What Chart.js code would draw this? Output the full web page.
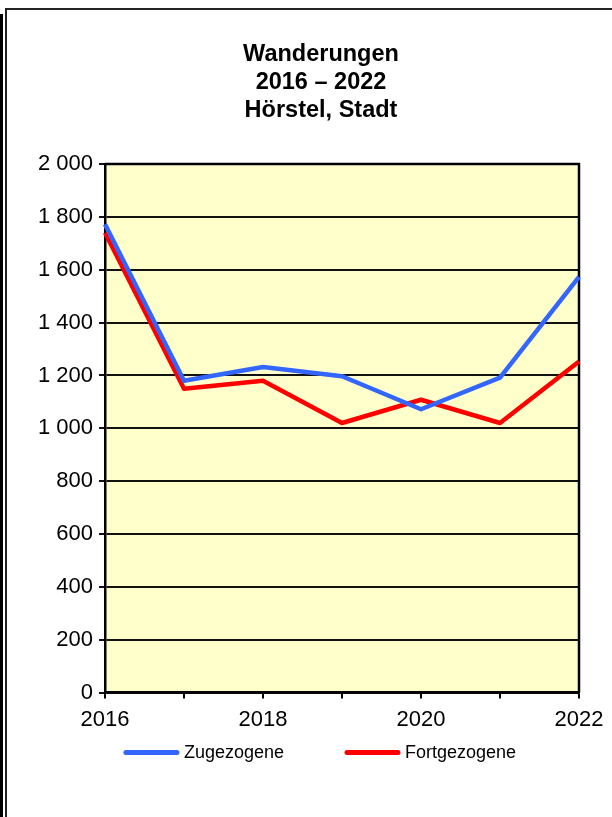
<!DOCTYPE html>
<html lang="de">
<head>
<meta charset="utf-8">
<title>Wanderungen 2016 – 2022 Hörstel, Stadt</title>
<script src="https://cdn.jsdelivr.net/npm/chart.js@4/dist/chart.umd.min.js"></script>
<style>
  html, body { margin: 0; padding: 0; background: #fff; }
  #wrap { position: relative; width: 612px; height: 817px; overflow: hidden; }
  #wrap canvas { position: absolute; left: 0; top: 0; }
  .bar-outer { position: absolute; left: 0; top: 14px; width: 3px; height: 803px; background: #000; }
  .frame { position: absolute; left: 5px; top: 8px; width: 620px; height: 820px;
           border-left: 2px solid #222; border-top: 2px solid #222; }
</style>
</head>
<body>
<div id="wrap">
  <div class="bar-outer"></div>
  <div class="frame"></div>
  <canvas id="chart" width="612" height="817"></canvas>
</div>
<script>
  const FONT = "'Liberation Sans', Arial, sans-serif";

  // Daten
  const years = ['2016', '2017', '2018', '2019', '2020', '2021', '2022'];
  const zugezogene = [1772, 1180, 1232, 1197, 1072, 1192, 1573];
  const fortgezogene = [1740, 1150, 1180, 1020, 1108, 1020, 1253];
  const seriesNames = ['Zugezogene', 'Fortgezogene'];
  const titleLines = ['Wanderungen', '2016 – 2022', 'Hörstel, Stadt'];
  const yTicks = { min: 0, max: 2000, step: 200 };

  function formatThousands(v) {
    return String(v).replace(/\B(?=(\d{3})+(?!\d))/g, ' ');
  }

  // gelber Hintergrund + Rahmen der Zeichenfläche
  const plotArea = {
    id: 'plotArea',
    beforeDraw(chart) {
      const { ctx, chartArea: a } = chart;
      ctx.save();
      ctx.fillStyle = '#FFFFCC';
      ctx.fillRect(a.left, a.top, a.width, a.height);
      ctx.restore();
    },
    beforeDatasetsDraw(chart) {
      const { ctx, chartArea: a } = chart;
      ctx.save();
      ctx.strokeStyle = '#000';
      ctx.lineWidth = 2.5;
      ctx.beginPath();
      ctx.moveTo(a.left, a.top);
      ctx.lineTo(a.right, a.top);
      ctx.lineTo(a.right, a.bottom);
      ctx.stroke();
      ctx.restore();
    }
  };

  // Legende unten, Linie + Text
  const bottomLegend = {
    id: 'bottomLegend',
    afterDraw(chart) {
      const { ctx, chartArea: a } = chart;
      const sets = chart.data.datasets;
      const lineLen = 51, gapText = 7, gapItem = 63;
      ctx.save();
      ctx.font = '18px ' + FONT;
      ctx.textBaseline = 'middle';
      let total = 0;
      sets.forEach((ds, i) => {
        total += lineLen + gapText + ctx.measureText(ds.label).width;
        if (i < sets.length - 1) total += gapItem;
      });
      let x = 321 - total / 2;
      const y = a.bottom + 60;
      sets.forEach((ds) => {
        ctx.strokeStyle = ds.borderColor;
        ctx.lineWidth = 5;
        ctx.lineCap = 'round';
        ctx.beginPath();
        ctx.moveTo(x, y);
        ctx.lineTo(x + lineLen, y);
        ctx.stroke();
        ctx.fillStyle = '#000';
        ctx.fillText(ds.label, x + lineLen + gapText, y);
        x += lineLen + gapText + ctx.measureText(ds.label).width + gapItem;
      });
      ctx.restore();
    }
  };

  new Chart(document.getElementById('chart'), {
    type: 'line',
    data: {
      labels: years,
      datasets: [
        {
          label: seriesNames[0],
          data: zugezogene,
          borderColor: '#3366FF',
          borderWidth: 4.5,
          pointRadius: 0,
          tension: 0,
          borderJoinStyle: 'round'
        },
        {
          label: seriesNames[1],
          data: fortgezogene,
          borderColor: '#FF0000',
          borderWidth: 4.5,
          pointRadius: 0,
          tension: 0,
          borderJoinStyle: 'round'
        }
      ]
    },
    options: {
      responsive: false,
      animation: false,
      layout: { padding: { left: 37, right: 7, top: 20, bottom: 76 } },
      scales: {
        x: {
          offset: false,
          // rechter Rand fest, damit Titel mittig über dem Kasten bleibt
          afterFit: (scale) => { scale.paddingRight = 33; },
          grid: { drawOnChartArea: false, color: '#000', lineWidth: 2, tickLength: 6 },
          border: { color: '#000', width: 2.5 },
          ticks: {
            autoSkip: false,
            maxRotation: 0,
            padding: 8,
            color: '#000',
            font: { family: FONT, size: 22 },
            callback: (v, i) => (i % 2 === 0 ? years[i] : '')
          }
        },
        y: {
          min: yTicks.min,
          max: yTicks.max,
          afterFit: (scale) => { scale.width = 68; },
          grid: { color: '#111', lineWidth: 2, tickLength: 6 },
          border: { color: '#000', width: 2.5 },
          ticks: {
            stepSize: yTicks.step,
            padding: 6,
            color: '#000',
            font: { family: FONT, size: 22 },
            callback: (v) => formatThousands(v)
          }
        }
      },
      plugins: {
        legend: { display: false },
        tooltip: { enabled: false },
        title: {
          display: true,
          text: titleLines,
          color: '#000',
          font: { family: FONT, size: 23.5, weight: 'bold', lineHeight: 28 / 23.5 },
          padding: { top: 20.5, bottom: 39.5 }
        }
      }
    },
    plugins: [plotArea, bottomLegend]
  });
</script>
</body>
</html>
